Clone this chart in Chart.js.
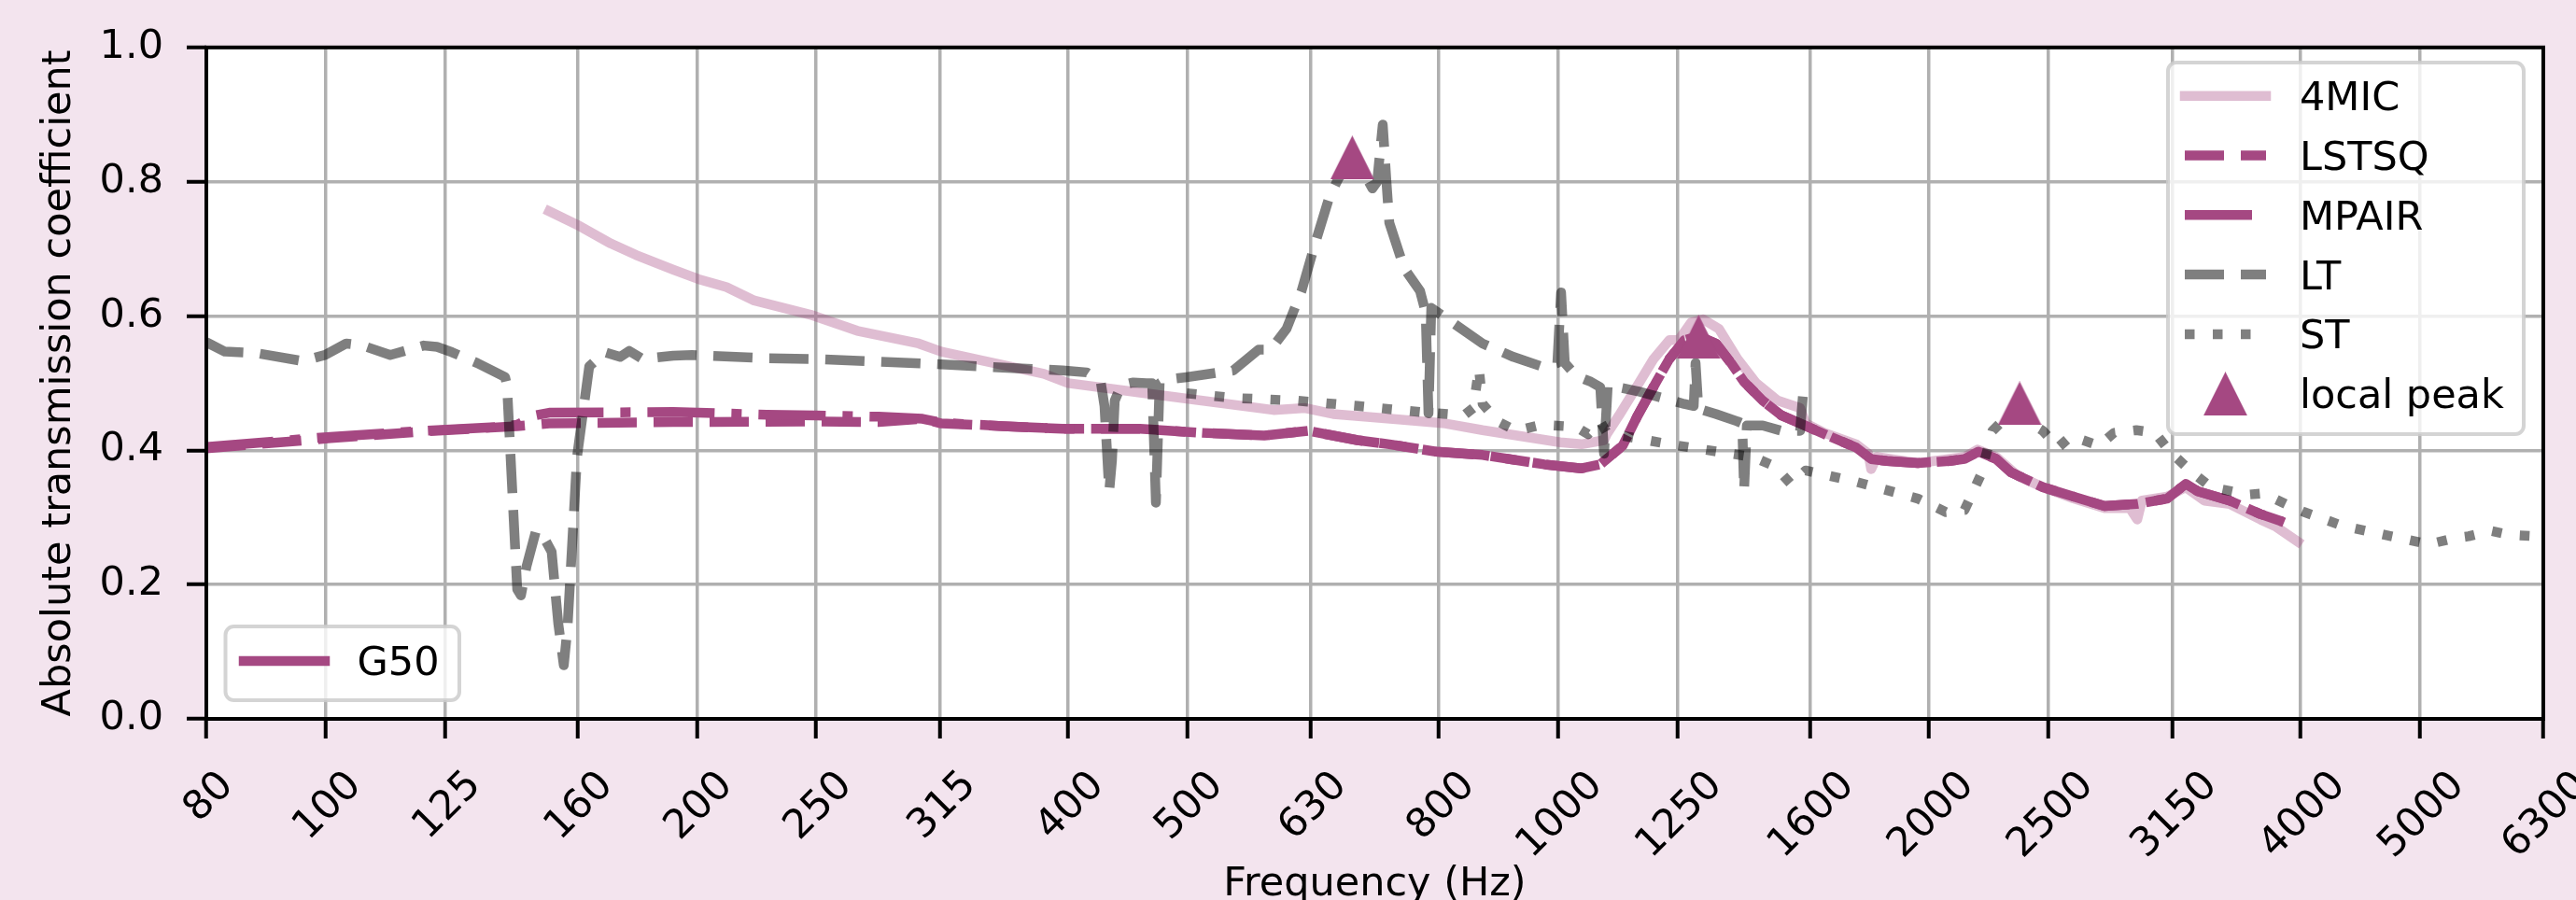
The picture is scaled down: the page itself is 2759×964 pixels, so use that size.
<!DOCTYPE html>
<html>
<head>
<meta charset="utf-8">
<title>Absolute transmission coefficient</title>
<script src="https://cdn.jsdelivr.net/npm/chart.js@4.4.1/dist/chart.umd.min.js"></script>
<style>
  html, body { margin: 0; padding: 0; background: #f3e4ee; }
  canvas { display: block; }
</style>
</head>
<body>
<canvas id="chart" width="2759" height="964"></canvas>
<script>
// --- data ---
const xTicks = [80, 100, 125, 160, 200, 250, 315, 400, 500, 630, 800, 1000, 1250, 1600, 2000, 2500, 3150, 4000, 5000, 6300];
const xTickLabels = ["80", "100", "125", "160", "200", "250", "315", "400", "500", "630", "800", "1000", "1250", "1600", "2000", "2500", "3150", "4000", "5000", "6300"];
const yTicks = [0, 0.2, 0.4, 0.6, 0.8, 1.0];

const mic4Freq = [151.8, 159.9, 170.3, 178.5, 191.4, 200.6, 211.4, 222.7, 247.3, 269.9, 302.8, 315.8, 342.1, 382.5, 400.3, 457.8, 484.9, 587.5, 623.3, 656.8, 742.2, 809.8, 868.3, 1003.6, 1044.7, 1089.4, 1095, 1120.4, 1160.2, 1195, 1230.8, 1252.6, 1281.4, 1310.8, 1350.3, 1398, 1447.7, 1506.9, 1571.3, 1587.8, 1644.3, 1745.1, 1785.1, 1794.5, 1813.4, 1958.1, 2136.5, 2189.3, 2266.9, 2359.8, 2473.6, 2620.1, 2775.4, 2909.2, 2950.2, 2975.9, 3119.4, 3230.2, 3344.8, 3506.1, 3713.3, 3825.1, 3981.9];
const mic4Val = [0.756, 0.736, 0.708, 0.691, 0.669, 0.655, 0.643, 0.623, 0.602, 0.578, 0.559, 0.547, 0.533, 0.514, 0.500, 0.486, 0.480, 0.460, 0.463, 0.454, 0.446, 0.440, 0.430, 0.412, 0.409, 0.415, 0.424, 0.452, 0.497, 0.536, 0.564, 0.564, 0.590, 0.595, 0.581, 0.536, 0.500, 0.474, 0.463, 0.440, 0.426, 0.409, 0.395, 0.372, 0.390, 0.381, 0.390, 0.401, 0.390, 0.362, 0.345, 0.328, 0.314, 0.314, 0.297, 0.325, 0.331, 0.345, 0.325, 0.320, 0.297, 0.286, 0.264];

const lstsqFreq = [80, 100.9, 120.1, 143, 151.8, 191.4, 249.9, 280.9, 304.9, 315.8, 354.3, 396.1, 457.8, 514.5, 577.3, 626.6, 687.3, 729.4, 795.8, 868.3, 974.3, 1044.7, 1081.8, 1095, 1128.2, 1160.2, 1201.2, 1230.8, 1265.8, 1300, 1343, 1381, 1415.2, 1465.4, 1517.5, 1571.3, 1644.3, 1745.1, 1794.5, 1848.1, 1958.1, 2077.7, 2136.5, 2193.1, 2266.9, 2331.1, 2473.6, 2620.1, 2775.4, 2945, 3119.4, 3230.2, 3304, 3506.1, 3713.3, 3865.4, 3961.1];
const lstsqVal = [0.403, 0.418, 0.428, 0.436, 0.440, 0.442, 0.443, 0.442, 0.447, 0.440, 0.436, 0.432, 0.432, 0.426, 0.422, 0.429, 0.415, 0.409, 0.398, 0.393, 0.379, 0.373, 0.379, 0.387, 0.407, 0.452, 0.502, 0.536, 0.564, 0.570, 0.559, 0.530, 0.502, 0.474, 0.452, 0.440, 0.424, 0.404, 0.387, 0.384, 0.381, 0.384, 0.387, 0.398, 0.387, 0.367, 0.345, 0.331, 0.317, 0.320, 0.328, 0.350, 0.339, 0.325, 0.305, 0.294, 0.286];

const mpairFreq = [80, 100.9, 120.1, 139.1, 143, 148, 151.8, 191.4, 227.9, 249.9, 280.9, 304.9, 315.8, 354.3, 396.1, 457.8, 514.5, 577.3, 626.6, 687.3, 729.4, 795.8, 868.3, 974.3, 1044.7, 1081.8, 1095, 1128.2, 1160.2, 1201.2, 1230.8, 1265.8, 1300, 1343, 1381, 1415.2, 1465.4, 1517.5, 1571.3, 1644.3, 1745.1, 1794.5, 1848.1, 1958.1, 2077.7, 2136.5, 2193.1, 2266.9, 2331.1, 2473.6, 2620.1, 2775.4, 2945, 3119.4, 3230.2, 3304, 3506.1, 3713.3, 3865.4];
const mpairVal = [0.405, 0.420, 0.429, 0.435, 0.438, 0.452, 0.456, 0.457, 0.453, 0.452, 0.450, 0.447, 0.441, 0.436, 0.432, 0.432, 0.426, 0.422, 0.429, 0.415, 0.409, 0.398, 0.393, 0.379, 0.373, 0.379, 0.387, 0.407, 0.452, 0.502, 0.536, 0.564, 0.570, 0.559, 0.530, 0.502, 0.474, 0.452, 0.440, 0.424, 0.404, 0.387, 0.384, 0.381, 0.384, 0.387, 0.398, 0.387, 0.367, 0.345, 0.331, 0.317, 0.320, 0.328, 0.350, 0.339, 0.325, 0.305, 0.294];

const ltFreq = [80, 82.8, 87.7, 95.7, 99.9, 103.9, 107.1, 112.8, 120.1, 123.1, 126.6, 132.7, 139.8, 140.3, 143, 144, 145.5, 148.1, 149.9, 152.5, 154.4, 156, 157.1, 159.9, 163.6, 168.5, 173.3, 176.3, 180.7, 191.4, 198.2, 227.9, 249.9, 280.9, 315.8, 354.3, 396.1, 414.4, 425.4, 428.4, 432.2, 434.4, 436.7, 442.1, 452.2, 463.4, 468.3, 471.6, 474.9, 479.9, 499.5, 545, 571.3, 584.4, 602, 619, 634.3, 652.3, 663.8, 680.6, 697, 706.8, 713, 720.5, 725.5, 729.4, 750, 772.6, 780.7, 784.8, 788.9, 818.3, 868.3, 919.8, 969.2, 998.4, 1005.4, 1012.4, 1033.8, 1063, 1081.8, 1089.4, 1097, 1160.2, 1265.8, 1288.1, 1292.6, 1299.4, 1343, 1398, 1410.3, 1415.2, 1422.6, 1465.4, 1517.5, 1571.3, 1579.5];
const ltVal = [0.561, 0.547, 0.545, 0.533, 0.542, 0.559, 0.556, 0.542, 0.556, 0.554, 0.546, 0.530, 0.509, 0.497, 0.193, 0.184, 0.227, 0.280, 0.274, 0.249, 0.142, 0.080, 0.137, 0.390, 0.525, 0.546, 0.539, 0.548, 0.536, 0.541, 0.542, 0.537, 0.536, 0.532, 0.528, 0.523, 0.519, 0.516, 0.502, 0.466, 0.339, 0.384, 0.474, 0.497, 0.501, 0.500, 0.500, 0.322, 0.500, 0.505, 0.509, 0.519, 0.550, 0.550, 0.581, 0.637, 0.705, 0.778, 0.806, 0.830, 0.810, 0.790, 0.800, 0.885, 0.800, 0.739, 0.671, 0.637, 0.605, 0.455, 0.612, 0.592, 0.559, 0.539, 0.525, 0.530, 0.635, 0.530, 0.511, 0.502, 0.494, 0.395, 0.497, 0.488, 0.469, 0.466, 0.530, 0.462, 0.454, 0.443, 0.440, 0.340, 0.437, 0.437, 0.429, 0.429, 0.480];

const stFreq = [499.5, 545, 612.6, 687.3, 772.6, 838.6, 853.3, 862.3, 868.3, 893, 924.6, 969.2, 1033.8, 1057.4, 1081.8, 1095, 1230.8, 1381, 1440.1, 1499, 1544.2, 1587.8, 1745.1, 1958.1, 2063.2, 2136.5, 2200.7, 2251.1, 2290.8, 2368, 2473.6, 2543.6, 2606.4, 2746.4, 2824.2, 2945, 3049.4, 3135.8, 3269.7, 3385.8, 3630, 3732.8, 3892.5, 4030.8, 4321.5, 4683.8, 4909.7, 5084, 5329, 5479.9, 5714.2, 5917, 6191.4, 6300];
const stVal = [0.485, 0.478, 0.474, 0.466, 0.457, 0.452, 0.463, 0.522, 0.469, 0.443, 0.429, 0.438, 0.435, 0.424, 0.443, 0.426, 0.409, 0.395, 0.390, 0.376, 0.350, 0.370, 0.353, 0.328, 0.308, 0.311, 0.362, 0.429, 0.443, 0.450, 0.429, 0.404, 0.421, 0.407, 0.426, 0.430, 0.426, 0.398, 0.367, 0.345, 0.334, 0.336, 0.320, 0.308, 0.288, 0.274, 0.266, 0.260, 0.269, 0.272, 0.280, 0.274, 0.272, 0.272];

const peakFreq = [680.6, 1300, 2368];
const peakVal = [0.836, 0.569, 0.470];

// --- styles ---
const magenta = 'rgb(165, 72, 130)';
const pink = 'rgba(165, 72, 130, 0.36)';
const gray = 'rgba(0, 0, 0, 0.5)';
const LW = 10.5;
const dashed = [42, 18];
const dashDot = [72, 18, 11, 18];
const dotted = [10.5, 19.5];
const FONT = '"DejaVu Sans", "Liberation Sans", sans-serif';

function pts(f, v) {
    return f.map((x, i) => ({ x: x, y: v[i] }));
}

function makeTriangle(size, color) {
    const c = document.createElement('canvas');
    c.width = size; c.height = size;
    const g = c.getContext('2d');
    g.fillStyle = color;
    g.beginPath();
    g.moveTo(size / 2, 0);
    g.lineTo(size, size);
    g.lineTo(0, size);
    g.closePath();
    g.fill();
    return c;
}
const triangle = makeTriangle(47, magenta);

function lineSet(label, f, v, color, dash, order) {
    return {
        label: label,
        data: pts(f, v),
        borderColor: color,
        borderWidth: LW,
        borderDash: dash,
        borderCapStyle: dash.length ? 'butt' : 'square',
        borderJoinStyle: 'round',
        pointRadius: 0,
        tension: 0,
        fill: false,
        clip: 0,
        order: order
    };
}

// legend entries (top right)
const legendItems = [
    { label: '4MIC', color: pink, dash: [] },
    { label: 'LSTSQ', color: magenta, dash: dashed },
    { label: 'MPAIR', color: magenta, dash: dashDot },
    { label: 'LT', color: gray, dash: dashed },
    { label: 'ST', color: gray, dash: dotted },
    { label: 'local peak', marker: true }
];

function roundRect(ctx, x, y, w, h, r) {
    ctx.beginPath();
    ctx.moveTo(x + r, y);
    ctx.arcTo(x + w, y, x + w, y + h, r);
    ctx.arcTo(x + w, y + h, x, y + h, r);
    ctx.arcTo(x, y + h, x, y, r);
    ctx.arcTo(x, y, x + w, y, r);
    ctx.closePath();
}

function drawFrame(ctx, x0, y0, x1, y1) {
    roundRect(ctx, x0, y0, x1 - x0, y1 - y0, 9);
    ctx.fillStyle = 'rgba(255,255,255,0.8)';
    ctx.fill();
    ctx.lineWidth = 4;
    ctx.strokeStyle = 'rgba(204,204,204,0.85)';
    ctx.stroke();
}

function drawHandle(ctx, x0, x1, y, item) {
    if (item.marker) {
        ctx.drawImage(triangle, (x0 + x1) / 2 - 23.5, y - 23.5);
        return;
    }
    ctx.save();
    ctx.strokeStyle = item.color;
    ctx.lineWidth = LW;
    ctx.setLineDash(item.dash);
    ctx.lineCap = item.dash.length ? 'butt' : 'square';
    ctx.beginPath();
    ctx.moveTo(x0, y);
    ctx.lineTo(x1, y);
    ctx.stroke();
    ctx.restore();
}

const decor = {
    id: 'decor',
    beforeDraw(chart) {
        const { ctx, chartArea: a } = chart;
        ctx.save();
        ctx.fillStyle = '#f3e4ee';
        ctx.fillRect(0, 0, chart.width, chart.height);
        ctx.fillStyle = '#ffffff';
        ctx.fillRect(a.left, a.top, a.right - a.left, a.bottom - a.top);
        ctx.restore();
    },
    afterDatasetsDraw(chart) {
        const { ctx, chartArea: a } = chart;
        ctx.save();
        ctx.strokeStyle = '#000';
        ctx.lineWidth = 4;
        ctx.strokeRect(a.left, a.top, a.right - a.left, a.bottom - a.top);
        ctx.restore();
    },
    afterDraw(chart) {
        const { ctx, chartArea: a } = chart;
        const xs = chart.scales.x;
        ctx.save();
        ctx.fillStyle = '#000';
        ctx.font = '43px ' + FONT;

        // rotated x tick labels, centred under each tick
        xTickLabels.forEach((lab, i) => {
            const px = xs.getPixelForValue(xTicks[i]);
            const m = ctx.measureText(lab);
            const iw = m.actualBoundingBoxLeft + m.actualBoundingBoxRight;
            const ih = m.actualBoundingBoxAscent + m.actualBoundingBoxDescent;
            const cy = 822 + (iw + ih) / (2 * Math.SQRT2);
            ctx.save();
            ctx.translate(px, cy);
            ctx.rotate(-Math.PI / 4);
            ctx.textAlign = 'left';
            ctx.textBaseline = 'alphabetic';
            ctx.fillText(lab, -(m.actualBoundingBoxRight - m.actualBoundingBoxLeft) / 2,
                (m.actualBoundingBoxAscent - m.actualBoundingBoxDescent) / 2);
            ctx.restore();
        });

        // axis titles
        ctx.textAlign = 'center';
        ctx.textBaseline = 'alphabetic';
        ctx.fillText('Frequency (Hz)', (a.left + a.right) / 2, 958.5);
        ctx.save();
        ctx.translate(75, (a.top + a.bottom) / 2);
        ctx.rotate(-Math.PI / 2);
        ctx.fillText('Absolute transmission coefficient', 0, 0);
        ctx.restore();

        // main legend
        ctx.textAlign = 'left';
        drawFrame(ctx, 2322, 67, 2703, 465);
        legendItems.forEach((it, i) => {
            const y = 102.7 + i * 63.8;
            drawHandle(ctx, 2340, 2427, y, it);
            ctx.fillStyle = '#000';
            ctx.fillText(it.label, 2463, y + 15.5);
        });

        // second legend
        drawFrame(ctx, 241.5, 671, 492, 750);
        drawHandle(ctx, 261, 348, 708, { color: magenta, dash: [] });
        ctx.fillStyle = '#000';
        ctx.fillText('G50', 382.5, 722.5);
        ctx.restore();
    }
};

new Chart(document.getElementById('chart'), {
    type: 'line',
    data: {
        datasets: [
            lineSet('4MIC', mic4Freq, mic4Val, pink, [], 6),
            lineSet('LSTSQ', lstsqFreq, lstsqVal, magenta, dashed, 5),
            lineSet('MPAIR', mpairFreq, mpairVal, magenta, dashDot, 4),
            lineSet('LT', ltFreq, ltVal, gray, dashed, 3),
            lineSet('ST', stFreq, stVal, gray, dotted, 2),
            {
                label: 'local peak',
                data: pts(peakFreq, peakVal),
                showLine: false,
                pointStyle: triangle,
                pointRadius: 23,
                pointBackgroundColor: magenta,
                pointBorderWidth: 0,
                clip: 0,
                order: 1
            }
        ]
    },
    options: {
        responsive: false,
        devicePixelRatio: 1,
        animation: false,
        events: [],
        layout: { padding: { left: 0, top: 45, right: 35, bottom: 0 } },
        plugins: { legend: { display: false }, title: { display: false }, tooltip: { enabled: false } },
        scales: {
            x: {
                type: 'logarithmic',
                min: 80,
                max: 6300,
                afterBuildTicks: s => { s.ticks = xTicks.map(v => ({ value: v })); },
                afterFit: s => { s.height = 194; },
                ticks: { display: false },
                border: { display: false },
                grid: { color: '#b0b0b0', lineWidth: 3.5, drawTicks: true, tickLength: 21, tickColor: '#000', tickWidth: 4 }
            },
            y: {
                type: 'linear',
                min: 0,
                max: 1,
                afterBuildTicks: s => { s.ticks = yTicks.map(v => ({ value: v })); },
                afterFit: s => { s.width = 221; },
                ticks: {
                    padding: 25,
                    color: '#000',
                    font: { family: FONT, size: 43 },
                    callback: v => v.toFixed(1)
                },
                border: { display: false },
                grid: { color: '#b0b0b0', lineWidth: 3.5, drawTicks: true, tickLength: 21, tickColor: '#000', tickWidth: 4 }
            }
        }
    },
    plugins: [decor]
});
</script>
</body>
</html>
